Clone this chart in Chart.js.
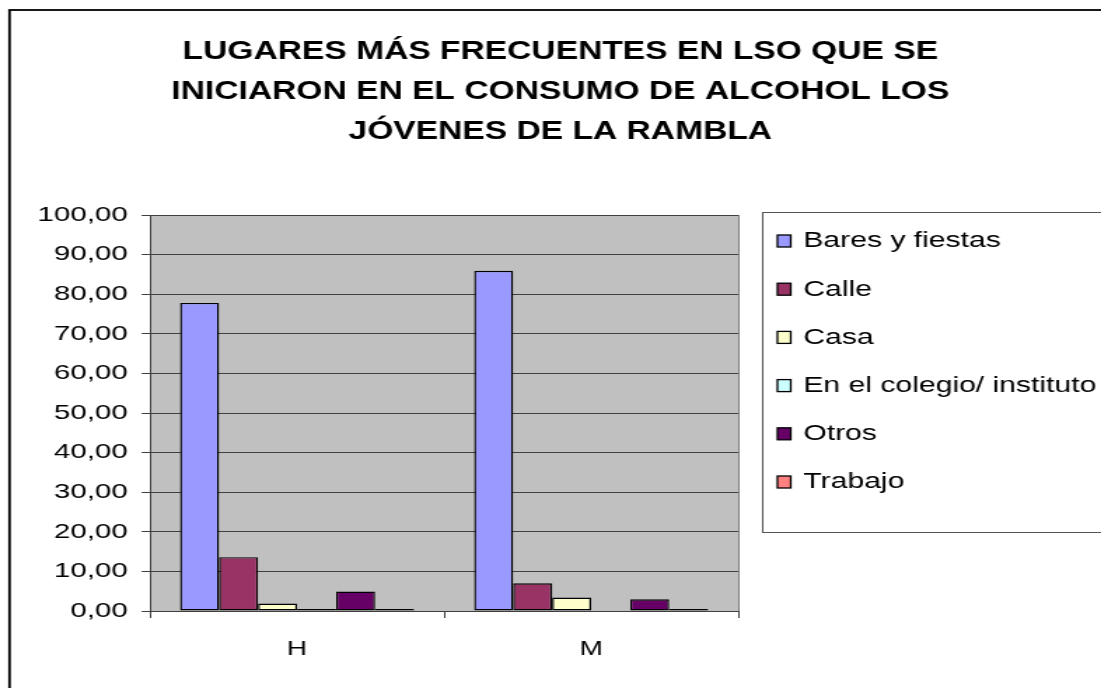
<!DOCTYPE html>
<html>
<head>
<meta charset="utf-8">
<script src="https://cdn.jsdelivr.net/npm/chart.js@4/dist/chart.umd.min.js"></script>
<style>
  html, body { margin: 0; padding: 0; background: #fff; }
  canvas { display: block; }
</style>
</head>
<body>
<!-- the source picture is stretched sideways, so the canvas is drawn narrow and scaled up by css -->
<canvas id="chart" width="786" height="688" style="width:1101px;height:688px"></canvas>
<script>
(function () {
  "use strict";

  const TITLE_LINES = [
    "LUGARES MÁS FRECUENTES EN LSO QUE SE",
    "INICIARON EN EL CONSUMO DE ALCOHOL LOS",
    "JÓVENES DE LA RAMBLA",
  ];
  const CATEGORIES = ["H", "M"];
  const SERIES = ["Bares y fiestas", "Calle", "Casa", "En el colegio/ instituto", "Otros", "Trabajo"];
  const BARES = [77.8, 85.9];
  const CALLE = [13.6, 7.0];
  const CASA = [1.9, 3.4];
  const COLEGIO = [0.5, 0];
  const OTROS = [4.9, 2.95];
  const TRABAJO = [0.5, 0.5];
  const Y_MIN = 0, Y_MAX = 100, Y_STEP = 10;

  const COLORS = ["#9999FF", "#993366", "#FFFFCC", "#CCFFFF", "#660066", "#FF8080"];
  const FONT = "'Liberation Sans', Arial, sans-serif";

  const values = [BARES, CALLE, CASA, COLEGIO, OTROS, TRABAJO];

  // gray plot background, outer frame, right edge of plot area
  const backdrop = {
    id: "backdrop",
    beforeDraw(chart) {
      const { ctx, chartArea: a } = chart;
      ctx.save();
      ctx.fillStyle = "#fff";
      ctx.fillRect(0, 0, chart.width, chart.height);
      ctx.fillStyle = "#C0C0C0";
      ctx.fillRect(a.left, a.top, a.right - a.left, a.bottom - a.top);
      ctx.strokeStyle = "#000";
      ctx.lineWidth = 1.8;
      ctx.strokeRect(6.8, 10, chart.width + 20, chart.height + 20);
      ctx.restore();
    },
    beforeDatasetsDraw(chart) {
      const { ctx, chartArea: a } = chart;
      ctx.save();
      ctx.strokeStyle = "#808080";
      ctx.lineWidth = 1;
      ctx.beginPath();
      ctx.moveTo(Math.round(a.right) + 0.5, a.top);
      ctx.lineTo(Math.round(a.right) + 0.5, a.bottom);
      ctx.stroke();
      ctx.restore();
    },
  };

  const titleBlock = {
    id: "titleBlock",
    afterDraw(chart) {
      const ctx = chart.ctx;
      ctx.save();
      ctx.fillStyle = "#000";
      ctx.font = "bold 25.5px " + FONT;
      ctx.textAlign = "center";
      ctx.textBaseline = "middle";
      ctx.translate(400, 0);
      ctx.scale(0.94, 1);
      TITLE_LINES.forEach((t, i) => ctx.fillText(t, 0, 52 + i * 40));
      ctx.restore();
    },
  };

  const legendBox = {
    id: "legendBox",
    afterDraw(chart) {
      const ctx = chart.ctx;
      ctx.save();
      ctx.strokeStyle = "#555";
      ctx.lineWidth = 1;
      ctx.strokeRect(544.5, 212.5, 300, 320);
      ctx.font = "21.5px " + FONT;
      ctx.textBaseline = "middle";
      ctx.textAlign = "left";
      chart.data.datasets.forEach((ds, i) => {
        const y = 240.5 + i * 48.2;
        ctx.fillStyle = ds.backgroundColor;
        ctx.fillRect(555, y - 5.5, 9.5, 12);
        ctx.strokeStyle = "#000";
        ctx.lineWidth = 1.3;
        ctx.strokeRect(555, y - 5.5, 9.5, 12);
        ctx.fillStyle = "#000";
        ctx.fillText(ds.label, 573.5, y + 1);
      });
      ctx.restore();
    },
  };

  new Chart(document.getElementById("chart"), {
    type: "bar",
    data: {
      labels: CATEGORIES,
      datasets: SERIES.map((name, i) => ({
        label: name,
        data: values[i],
        backgroundColor: COLORS[i],
        borderColor: "#000",
        borderWidth: 1.4,
        borderSkipped: false,
        categoryPercentage: 0.796,
        barPercentage: 1.0,
      })),
    },
    options: {
      responsive: false,
      animation: false,
      layout: { padding: { left: 0, right: 259, top: 215, bottom: 0 } },
      plugins: { legend: { display: false }, title: { display: false }, tooltip: { enabled: false } },
      scales: {
        x: {
          grid: { drawOnChartArea: false, drawTicks: true, tickLength: 7, color: "#404040", offset: true },
          border: { display: true, color: "#404040" },
          ticks: { color: "#000", font: { family: FONT, size: 20 }, padding: 19 },
          afterFit(scale) { scale.height = 77; },
        },
        y: {
          min: Y_MIN, max: Y_MAX,
          grid: { color: "#404040", tickLength: 6 },
          border: { display: true, color: "#404040" },
          ticks: {
            stepSize: Y_STEP, color: "#000", padding: 10,
            font: { family: FONT, size: 21 },
            callback: (v) => v.toFixed(2).replace(".", ","),
          },
          afterFit(scale) { scale.width = 107.1; },
        },
      },
    },
    plugins: [backdrop, titleBlock, legendBox],
  });
})();
</script>
</body>
</html>
